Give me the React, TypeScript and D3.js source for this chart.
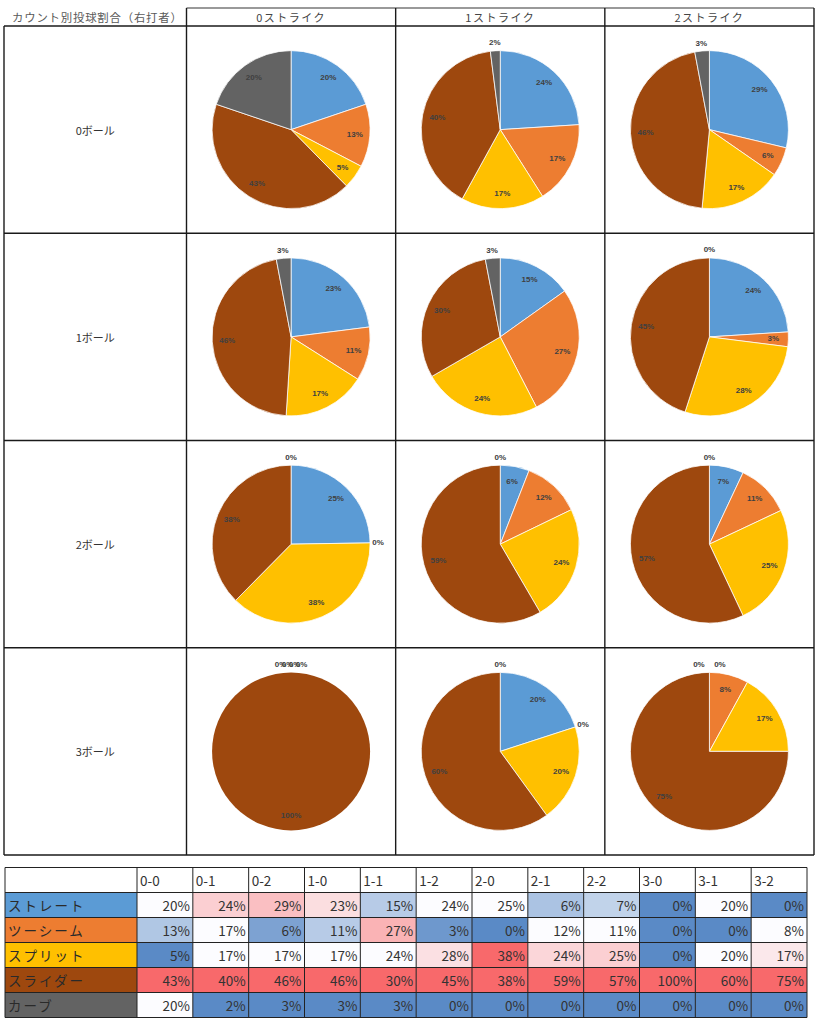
import React from "react";
import * as d3 from "d3";

// ---------- data ----------
const pitchTypes = ["ストレート", "ツーシーム", "スプリット", "スライダー", "カーブ"];
const pitchColors = ["#5B9BD5", "#ED7D31", "#FFC000", "#9E480E", "#636363"];
const counts = ["0-0", "0-1", "0-2", "1-0", "1-1", "1-2", "2-0", "2-1", "2-2", "3-0", "3-1", "3-2"];
const straight = [20, 24, 29, 23, 15, 24, 25, 6, 7, 0, 20, 0];
const twoSeam = [13, 17, 6, 11, 27, 3, 0, 12, 11, 0, 0, 8];
const split = [5, 17, 17, 17, 24, 28, 38, 24, 25, 0, 20, 17];
const slider = [43, 40, 46, 46, 30, 45, 38, 59, 57, 100, 60, 75];
const curve = [20, 2, 3, 3, 3, 0, 0, 0, 0, 0, 0, 0];
const seriesValues = [straight, twoSeam, split, slider, curve];
const ballLabels = ["0ボール", "1ボール", "2ボール", "3ボール"];
const strikeLabels = ["0ストライク", "1ストライク", "2ストライク"];
const title = "カウント別投球割合（右打者）";

// ---------- layout ----------
const W = 818;
const H = 1024;
const gridLeft = 4;
const labelColRight = 186.5;
const gridRight = 814;
const gridTop = 8;
const headerBottom = 26;
const gridBottom = 855;
const pieR = 79;

const tblLeft = 5;
const tblFirstRight = 137;
const tblRight = 807;
const tblTop = 867.5;
const tblRowH = 25;

const LABEL_FONT = 8;
function labelWidth(t: string) {
  let w = 0;
  for (const c of t) w += c === "%" ? LABEL_FONT * 0.89 : LABEL_FONT * 0.556;
  return w;
}

function PieCell({ cx, cy, values }: { cx: number; cy: number; values: number[] }) {
  const pie = d3.pie<number>().sort(null).value((d) => d);
  const arcs = pie(values);
  const arc = d3.arc<d3.PieArcDatum<number>>().innerRadius(0).outerRadius(pieR);
  const total = d3.sum(values);
  const rIn = pieR * 0.81;
  const rOut = pieR + 8;

  type Lab = { x: number; y: number; text: string; angle: number; outside: boolean };
  const labels: Lab[] = arcs.map((a) => {
    const mid = (a.startAngle + a.endAngle) / 2;
    const text = `${a.data}%`;
    const w = labelWidth(text);
    const h = LABEL_FONT + 1;
    const extent = w * Math.abs(Math.cos(mid)) + h * Math.abs(Math.sin(mid));
    const arcLen = (a.data / total) * 2 * Math.PI * rIn;
    const outside = a.data === 0 || extent * 1.15 > arcLen;
    const r = outside ? rOut : rIn;
    return { x: cx + Math.sin(mid) * r, y: cy - Math.cos(mid) * r, text, angle: mid, outside };
  });

  // spread overlapping outside labels
  const outs = labels.filter((l) => l.outside);
  const used = new Set<Lab>();
  for (const l of outs) {
    if (used.has(l)) continue;
    const cluster = outs.filter((o) => !used.has(o) && Math.abs(o.x - l.x) < 8 && Math.abs(o.y - l.y) < 8);
    cluster.forEach((o) => used.add(o));
    if (cluster.length > 1) {
      cluster.sort((p, q) => q.angle - p.angle);
      const baseX = d3.mean(cluster, (o) => o.x) as number;
      const step = 21 / (cluster.length - 1);
      cluster.forEach((o, i) => (o.x = baseX - 10.5 + i * step));
    }
  }

  return (
    <g>
      {arcs.map((a, i) =>
        a.data > 0 ? (
          <path
            key={i}
            d={arc(a) || ""}
            transform={`translate(${cx},${cy})`}
            fill={pitchColors[i]}
            stroke={a.data >= total ? "none" : "#fff"}
            strokeWidth={0.75}
          />
        ) : null
      )}
      {labels.map((l, i) => (
        <text
          key={i}
          x={l.x}
          y={l.y}
          textAnchor="middle"
          dominantBaseline="central"
          fontFamily="'Liberation Sans', Arial, sans-serif"
          fontSize={LABEL_FONT}
          fontWeight={600}
          fill="#404040"
        >
          {l.text}
        </text>
      ))}
    </g>
  );
}

const BLUE = "#5A8AC6";
const WHITE = "#FCFCFF";
const RED = "#F8696B";

function colorFor(v: number, col: number[]) {
  const s = [...col].sort((a, b) => a - b);
  const min = s[0];
  const max = s[s.length - 1];
  const med = d3.quantileSorted(s, 0.5) as number;
  if (v <= med) {
    const sc = d3.scaleLinear<string>().domain([min, med === min ? min + 1 : med]).range([BLUE, WHITE]).interpolate(d3.interpolateRgb).clamp(true);
    return sc(v);
  }
  const sc = d3.scaleLinear<string>().domain([med, max]).range([WHITE, RED]).interpolate(d3.interpolateRgb).clamp(true);
  return sc(v);
}

export default function App() {
  const colX = d3.scaleLinear().domain([0, 3]).range([labelColRight, gridRight]);
  const rowY = d3.scaleLinear().domain([0, 4]).range([headerBottom, gridBottom]);
  const tX = d3.scaleLinear().domain([0, counts.length]).range([tblFirstRight, tblRight]);
  const tY = (i: number) => tblTop + i * tblRowH;

  const jp = "'Noto Sans CJK JP', 'Noto Sans', sans-serif";
  const lineColor = "#1a1a1a";

  return (
    <svg width={W} height={H} style={{ position: "absolute", left: 0, top: 0, background: "#fff" }}>
      <rect x={0} y={0} width={W} height={H} fill="#fff" />
      {/* title */}
      <text x={12} y={17} dominantBaseline="central" fontFamily={jp} fontSize={11.4} letterSpacing={0.8} fill="#595959">
        {title}
      </text>
      {/* headers */}
      {strikeLabels.map((s, j) => (
        <text
          key={s}
          x={(colX(j) + colX(j + 1)) / 2}
          y={17}
          textAnchor="middle"
          dominantBaseline="central"
          fontFamily={jp}
          fontSize={11}
          letterSpacing={1.5}
          fill="#444"
        >
          {s}
        </text>
      ))}
      {ballLabels.map((b, i) => (
        <text
          key={b}
          x={(gridLeft + labelColRight) / 2}
          y={(rowY(i) + rowY(i + 1)) / 2}
          textAnchor="middle"
          dominantBaseline="central"
          fontFamily={jp}
          fontSize={11}
          fill="#333"
        >
          {b}
        </text>
      ))}
      {/* pies */}
      {ballLabels.map((_, b) =>
        strikeLabels.map((__, s) => {
          const idx = b * 3 + s;
          const vals = seriesValues.map((ser) => ser[idx]);
          return (
            <PieCell
              key={`${b}-${s}`}
              cx={(colX(s) + colX(s + 1)) / 2}
              cy={(rowY(b) + rowY(b + 1)) / 2}
              values={vals}
            />
          );
        })
      )}
      {/* grid lines */}
      <line x1={labelColRight} x2={gridRight} y1={gridTop} y2={gridTop} stroke="#999" strokeWidth={2} />
      {[0, 1, 2, 3, 4].map((i) => (
        <line key={`h${i}`} x1={gridLeft} x2={gridRight} y1={rowY(i)} y2={rowY(i)} stroke={lineColor} strokeWidth={1.4} />
      ))}
      <line x1={gridLeft} x2={gridLeft} y1={headerBottom} y2={gridBottom} stroke={lineColor} strokeWidth={1.4} />
      {[0, 1, 2, 3].map((j) => (
        <line key={`v${j}`} x1={colX(j)} x2={colX(j)} y1={gridTop} y2={gridBottom} stroke={lineColor} strokeWidth={1.4} />
      ))}

      {/* table */}
      <g>
        {counts.map((c, j) => (
          <text
            key={c}
            x={tX(j) + 3}
            y={tY(0) + tblRowH / 2}
            dominantBaseline="central"
            fontFamily={jp}
            fontSize={13.5}
            fill="#333"
          >
            {c}
          </text>
        ))}
        {pitchTypes.map((p, i) => (
          <g key={p}>
            <rect x={tblLeft} y={tY(i + 1)} width={tblFirstRight - tblLeft} height={tblRowH} fill={pitchColors[i]} />
            <text
              x={tblLeft + 3}
              y={tY(i + 1) + tblRowH / 2}
              dominantBaseline="central"
              fontFamily={jp}
              fontSize={13.5}
              letterSpacing={2}
              fill="#2a2a2a"
            >
              {p}
            </text>
            {counts.map((c, j) => {
              const col = seriesValues.map((s) => s[j]);
              const v = seriesValues[i][j];
              return (
                <g key={c}>
                  <rect x={tX(j)} y={tY(i + 1)} width={tX(j + 1) - tX(j)} height={tblRowH} fill={colorFor(v, col)} />
                  <text
                    x={tX(j + 1) - 3}
                    y={tY(i + 1) + tblRowH / 2}
                    textAnchor="end"
                    dominantBaseline="central"
                    fontFamily={jp}
                    fontSize={13.5}
                    fill="#333"
                  >
                    {`${v}%`}
                  </text>
                </g>
              );
            })}
          </g>
        ))}
        {d3.range(pitchTypes.length + 2).map((i) => (
          <line key={`th${i}`} x1={tblLeft} x2={tblRight} y1={tY(i)} y2={tY(i)} stroke="#222" strokeWidth={1} />
        ))}
        <line x1={tblLeft} x2={tblLeft} y1={tY(0)} y2={tY(pitchTypes.length + 1)} stroke="#222" strokeWidth={1} />
        {d3.range(counts.length + 1).map((j) => (
          <line key={`tv${j}`} x1={tX(j)} x2={tX(j)} y1={tY(0)} y2={tY(pitchTypes.length + 1)} stroke="#222" strokeWidth={1} />
        ))}
      </g>
    </svg>
  );
}
